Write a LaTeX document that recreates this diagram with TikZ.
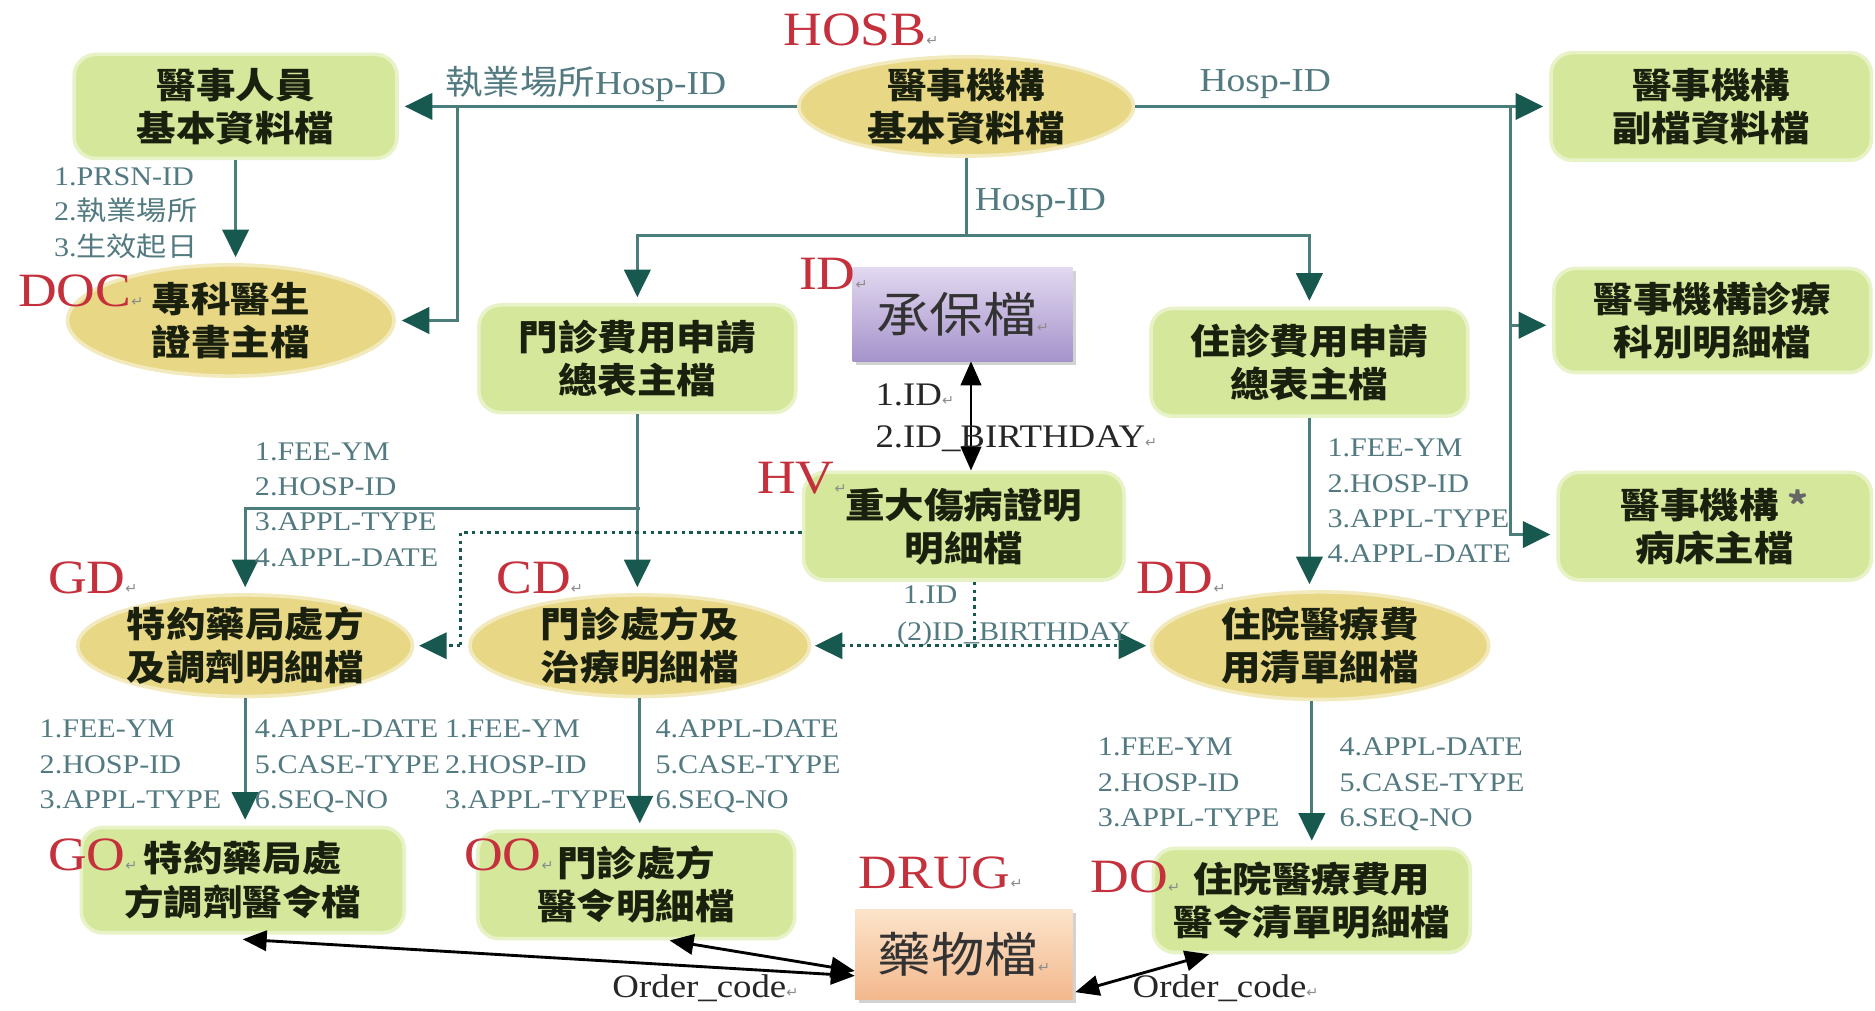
\documentclass[tikz,border=0pt]{standalone}
\usepackage{fontspec}
\setmainfont{Liberation Serif}[FakeStretch=1.12]
\newfontfamily\cjk{Noto Sans CJK TC}[FakeStretch=1.12]
\newfontfamily\djv{DejaVu Sans}
\usetikzlibrary{arrows.meta,shapes.geometric,shadows,calc}
\definecolor{boxgreen}{HTML}{D5E79A}
\definecolor{ellyel}{HTML}{E8D886}
\definecolor{lnk}{HTML}{4B7D7A}
\definecolor{tipc}{HTML}{17594F}
\definecolor{redlab}{HTML}{C4303C}
\definecolor{fieldc}{HTML}{527A80}
\definecolor{txtc}{HTML}{1A200E}
\definecolor{purtop}{HTML}{E2D8F0}
\definecolor{purbot}{HTML}{A593CB}
\definecolor{orgtop}{HTML}{FCE4CA}
\definecolor{orgbot}{HTML}{F3B88E}
\newcommand\pmk{{\djv\fontsize{12}{12}\selectfont\color{black!45}↵}}
\begin{document}
\begin{tikzpicture}[x=1pt,y=-1pt,
  gbox/.style={rectangle,rounded corners=18pt,fill=boxgreen,draw=boxgreen!55!white,line width=3pt,text=txtc,align=center,inner sep=0pt,font=\cjk\bfseries\fontsize{29.5}{36}\selectfont},
  yshape/.style={ellipse,fill=ellyel,draw=ellyel!55!white,line width=3pt,inner sep=0pt},
  ytext/.style={text=txtc,align=center,inner sep=0pt,font=\cjk\bfseries\fontsize{29.5}{36}\selectfont},
  bigbox/.style={rectangle,inner sep=0pt,font=\cjk\fontsize{40}{40}\selectfont,text=black!80,drop shadow={shadow xshift=3pt,shadow yshift=-3pt,opacity=0.35}},
  rlab/.style={anchor=west,inner sep=0pt,text=redlab,font=\fontsize{40}{40}\selectfont},
  flab/.style={anchor=north west,inner sep=0pt,align=left,text=fieldc,font=\fontsize{22.5}{29.5}\selectfont},
  slab/.style={anchor=west,inner sep=0pt,text=fieldc,font=\fontsize{28}{28}\selectfont},
  klab/.style={anchor=west,inner sep=0pt,text=black!85,font=\fontsize{27.5}{27.5}\selectfont},
  tl/.style={draw=lnk,line width=2.5pt,-{Triangle[length=23pt,width=22pt,color=tipc]},shorten >=5pt},
  tln/.style={draw=lnk,line width=2.5pt},
  dl/.style={draw=tipc,line width=2.3pt,dash pattern=on 3pt off 3.5pt},
  dtip/.style={-{Triangle[length=23pt,width=22pt,color=tipc]},shorten >=4pt},
  dboth/.style={{Triangle[length=23pt,width=22pt,color=tipc]}-{Triangle[length=23pt,width=22pt,color=tipc]},shorten >=3pt,shorten <=3pt},
  bk/.style={draw=black,line width=2.4pt,{Triangle[length=20pt,width=17pt]}-{Triangle[length=20pt,width=17pt]}}
]
\fill[white] (0,0) rectangle (1568,845);
\useasboundingbox (0,0) rectangle (1568,845);

% ---- boxes and ellipses
\node[gbox,minimum width=270pt,minimum height=87pt] (pers) at (197,89) {醫事人員\\基本資料檔};
\node[yshape,minimum width=280pt,minimum height=83pt] (hosb) at (808,89) {};
\node[ytext] (hosbt) at (hosb) {醫事機構\\基本資料檔};
\node[gbox,minimum width=268pt,minimum height=90pt] (sub1) at (1431,89) {醫事機構\\副檔資料檔};
\node[yshape,minimum width=273pt,minimum height=93pt] (doc) at (193,268) {};
\node[ytext] (doct) at (doc) {專科醫生\\證書主檔};
\node[gbox,minimum width=265pt,minimum height=90pt] (opsum) at (533,300) {門診費用申請\\總表主檔};
\node[bigbox,minimum width=184pt,minimum height=78pt,top color=purtop,bottom color=purbot] (insure) at (805,263) {承保檔\pmk};
\node[gbox,minimum width=265pt,minimum height=90pt] (ipsum) at (1095,303) {住診費用申請\\總表主檔};
\node[gbox,minimum width=265pt,minimum height=87pt] (sub2) at (1432,268) {醫事機構診療\\科別明細檔};
\node[gbox,minimum width=268pt,minimum height=90pt] (hv) at (806,440) {重大傷病證明\\明細檔};
\node[gbox,minimum width=262pt,minimum height=90pt] (sub3) at (1434,440) {醫事機構\ {\color{black!60}*}\\病床主檔};
\node[yshape,minimum width=280pt,minimum height=85pt] (gd) at (205,540) {};
\node[ytext] (gdt) at (gd) {特約藥局處方\\及調劑明細檔};
\node[yshape,minimum width=284pt,minimum height=85pt] (cd) at (535,540) {};
\node[ytext] (cdt) at (cd) {門診處方及\\治療明細檔};
\node[yshape,minimum width=282pt,minimum height=90pt] (dd) at (1104,540) {};
\node[ytext] (ddt) at (dd) {住院醫療費\\用清單細檔};
\node[gbox,minimum width=270pt,minimum height=88pt] (go) at (203,736) {特約藥局處\\方調劑醫令檔};
\node[gbox,minimum width=265pt,minimum height=90pt] (oo) at (532,740) {門診處方\\醫令明細檔};
\node[bigbox,minimum width=182pt,minimum height=75pt,top color=orgtop,bottom color=orgbot] (drug) at (806,798) {藥物檔\pmk};
\node[gbox,minimum width=265pt,minimum height=87pt] (do) at (1097,753) {住院醫療費用\\醫令清單明細檔};

% ---- red labels
\node[rlab] (lhosb) at (655,25) {HOSB\pmk};
\node[rlab] (ldoc) at (15,243) {DOC\pmk};
\node[rlab] (lid) at (668,229) {ID\pmk};
\node[rlab] (lhv) at (633,400) {HV\pmk};
\node[rlab] (lgd) at (40,483) {GD\pmk};
\node[rlab] (lcd) at (415,483) {CD\pmk};
\node[rlab] (ldd) at (950,483) {DD\pmk};
\node[rlab] (lgo) at (40,715) {GO\pmk};
\node[rlab] (loo) at (388,715) {OO\pmk};
\node[rlab] (ldrug) at (718,730) {DRUG\pmk};
\node[rlab] (ldo) at (912,733) {DO\pmk};

% ---- connector junctions
\coordinate (j1) at (383,89);
\coordinate (j2) at (1263,89);
\coordinate (j3) at (808,197);
\coordinate (j4) at (535,425);
\coordinate (j5) at (385,540);

% ---- teal connectors
\draw[tl] (hosb.west) -- (pers.east);
\draw[tl] (j1) |- (doc.east);
\draw[tl] (hosb.east) -- (sub1.west);
\draw[tl] (j2) |- ($(sub2.west)+(0,4)$);
\draw[tl] (j2) |- ($(sub3.west)+(0,7)$);
\draw[tln] (hosb.south) -- (j3);
\draw[tl] (j3) -| (opsum.north);
\draw[tl] (j3) -| (ipsum.north);
\draw[tl] (pers.south) -- (pers.south |- doc.north);
\draw[tl] (opsum.south) -- (opsum.south |- cd.north);
\draw[tl] (j4) -| (gd.north);
\draw[tl] (ipsum.south) -- (ipsum.south |- dd.north);
\draw[tl] (gd.south) -- (gd.south |- go.north);
\draw[tl] (cd.south) -- (cd.south |- oo.north);
\draw[tl] (dd.south -| do.north) -- (do.north);

% ---- dotted connectors
\draw[dl] ($(hv.west)+(0,5)$) -| (j5);
\draw[dl,dtip] (j5) -- (gd.east);
\draw[dl] ($(hv.south)+(9,0)$) -- ($(hv.south)+(9,58)$);
\draw[dl,dboth] (cd.east) -- (dd.west);

% ---- black connectors
\draw[bk] ($(insure.south)+(7,0)$) -- ($(hv.north)+(6,0)$);
\draw[bk] ($(drug.west)+(0,18)$) -- ($(go.south)+(0,4)$);
\draw[bk] ($(drug.west)+(0,14)$) -- ($(oo.south)+(28,0)$);
\draw[bk] ($(drug.south east)+(2,-6)$) -- ($(do.south west)+(48,0)$);

% ---- connector labels
\node[slab] (t1) at (372,70) {{\cjk 執業場所}Hosp-ID};
\node[slab] (t2) at (1003,70) {Hosp-ID};
\node[slab] (t3) at (815,170) {Hosp-ID};
\node[flab] (t4) at (45,140) {1.PRSN-ID\\2.{\cjk 執業場所}\\3.{\cjk 生效起日}};
\node[flab] (t5) at (213,370) {1.FEE-YM\\2.HOSP-ID\\3.APPL-TYPE\\4.APPL-DATE};
\node[flab] (t6) at (1110,367) {1.FEE-YM\\2.HOSP-ID\\3.APPL-TYPE\\4.APPL-DATE};
\node[flab] (t7) at (33,602) {1.FEE-YM\\2.HOSP-ID\\3.APPL-TYPE};
\node[flab] (t8) at (213,602) {4.APPL-DATE\\5.CASE-TYPE\\6.SEQ-NO};
\node[flab] (t9) at (372,602) {1.FEE-YM\\2.HOSP-ID\\3.APPL-TYPE};
\node[flab] (t10) at (548,602) {4.APPL-DATE\\5.CASE-TYPE\\6.SEQ-NO};
\node[flab] (t11) at (918,617) {1.FEE-YM\\2.HOSP-ID\\3.APPL-TYPE};
\node[flab] (t12) at (1120,617) {4.APPL-DATE\\5.CASE-TYPE\\6.SEQ-NO};
\node[klab] (t13) at (732,330) {1.ID\pmk};
\node[klab] (t14) at (732,367) {2.ID\_BIRTHDAY\pmk};
\node[flab,anchor=west] (t15) at (755,497) {1.ID};
\node[flab,anchor=west] (t16) at (750,530) {(2)ID\_BIRTHDAY};
\node[klab] (t17) at (512,826) {Order\_code\pmk};
\node[klab] (t18) at (947,826) {Order\_code\pmk};
\end{tikzpicture}
\end{document}
